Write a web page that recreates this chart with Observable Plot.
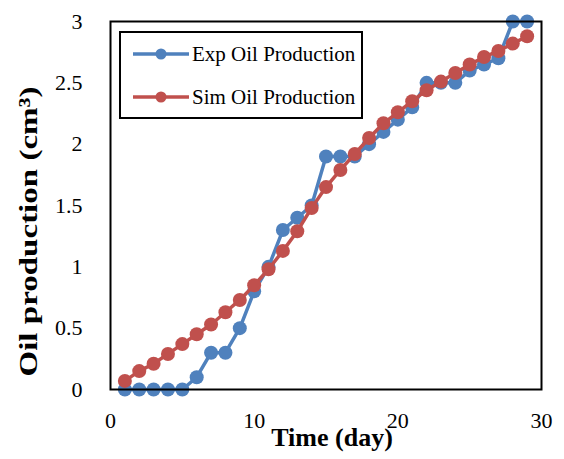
<!DOCTYPE html>
<html>
<head>
<meta charset="utf-8">
<script src="https://cdn.jsdelivr.net/npm/d3@7"></script>
<script src="https://cdn.jsdelivr.net/npm/@observablehq/plot@0.6"></script>
<style>
  html, body { margin: 0; padding: 0; background: #fff; }
  #wrap { position: relative; width: 564px; height: 459px; font-family: "Liberation Serif", "Times New Roman", serif; }
  #legend { position: absolute; left: 119px; top: 31px; width: 244px; height: 88px; box-sizing: border-box;
            border: 2px solid #000; background: #fff; }
  .row { position: absolute; left: 12px; height: 20px; display: flex; align-items: center; }
  .row span { font-size: 21px; color: #000; margin-left: 3px; white-space: nowrap; }
</style>
</head>
<body>
<div id="wrap"></div>
<script>
const days = [1,2,3,4,5,6,7,8,9,10,11,12,13,14,15,16,17,18,19,20,21,22,23,24,25,26,27,28,29];
const expOil = [0,0,0,0,0,0.1,0.3,0.3,0.5,0.8,1.0,1.3,1.4,1.5,1.9,1.9,1.9,2.0,2.1,2.2,2.3,2.5,2.5,2.5,2.6,2.65,2.7,3.0,3.0];
const simOil = [0.07,0.15,0.21,0.29,0.37,0.45,0.53,0.63,0.73,0.85,0.98,1.13,1.29,1.48,1.65,1.79,1.92,2.05,2.17,2.26,2.35,2.44,2.51,2.58,2.65,2.71,2.76,2.82,2.88];
const seriesNames = ["Exp Oil Production", "Sim Oil Production"];
const seriesColors = ["#4F81BD", "#C0504D"];
const xTicks = [0, 10, 20, 30];
const yTicks = [0, 0.5, 1, 1.5, 2, 2.5, 3];
const xTitle = "Time (day)";
const yTitle = "Oil production (cm³)";

const expData = days.map((d, i) => ({day: d, value: expOil[i]}));
const simData = days.map((d, i) => ({day: d, value: simOil[i]}));
const font = "'Liberation Serif', 'Times New Roman', serif";

const chart = Plot.plot({
  width: 564,
  height: 459,
  marginLeft: 110,
  marginRight: 23,
  marginTop: 21,
  marginBottom: 70,
  style: {fontFamily: font, background: "white", color: "black"},
  x: {domain: [0, 30]},
  y: {domain: [0, 3]},
  marks: [
    Plot.axisX({ticks: xTicks, tickSize: 0, tickPadding: 23, fontSize: 22, fontFamily: font, tickFormat: d => String(d), label: null}),
    Plot.axisY({ticks: yTicks, tickSize: 0, tickPadding: 28, fontSize: 22, fontFamily: font, tickFormat: d => String(d), label: null}),
    Plot.line(expData, {x: "day", y: "value", stroke: seriesColors[0], strokeWidth: 3.5}),
    Plot.dot(expData, {x: "day", y: "value", r: 7, fill: seriesColors[0], stroke: "none"}),
    Plot.line(simData, {x: "day", y: "value", stroke: seriesColors[1], strokeWidth: 3.5}),
    Plot.dot(simData, {x: "day", y: "value", r: 7, fill: seriesColors[1], stroke: "none"}),
    Plot.frame({stroke: "black", strokeWidth: 2}),
    Plot.text([xTitle], {text: d => d, frameAnchor: "bottom", textAnchor: "middle", dy: 56, dx: 6, fontSize: 26, fontWeight: "bold", fontFamily: font, fill: "black"}),
    Plot.text([yTitle], {text: d => d, frameAnchor: "left", textAnchor: "middle", rotate: -90, dx: -82, dy: 26, fontSize: 26, fontWeight: "bold", fontFamily: font, fill: "black"})
  ]
});

d3.select(chart).selectAll("text")
  .filter(function () { return this.textContent === yTitle; })
  .attr("textLength", 290)
  .attr("lengthAdjust", "spacingAndGlyphs");

const wrap = document.getElementById("wrap");
wrap.appendChild(chart);

const legend = document.createElement("div");
legend.id = "legend";
seriesNames.forEach((name, i) => {
  const row = document.createElement("div");
  row.className = "row";
  row.style.top = (i === 0 ? 11 : 54) + "px";
  const sw = d3.create("svg").attr("width", 56).attr("height", 20);
  sw.append("line").attr("x1", 0).attr("x2", 56).attr("y1", 10).attr("y2", 10)
    .attr("stroke", seriesColors[i]).attr("stroke-width", 3.5);
  sw.append("circle").attr("cx", 28).attr("cy", 10).attr("r", 5.5).attr("fill", seriesColors[i]);
  row.appendChild(sw.node());
  const t = document.createElement("span");
  t.textContent = name;
  row.appendChild(t);
  legend.appendChild(row);
});
wrap.appendChild(legend);
</script>
</body>
</html>
